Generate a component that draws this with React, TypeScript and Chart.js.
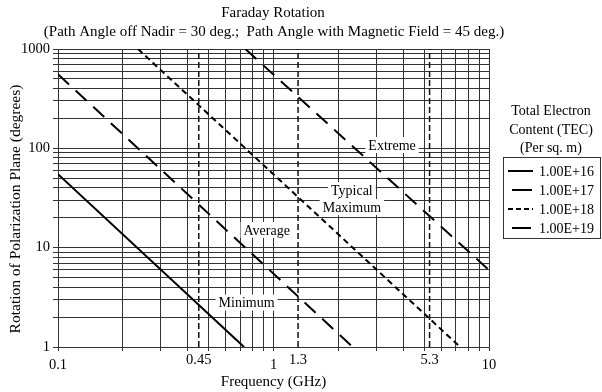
import React, { useEffect, useRef } from "react";
import { Chart, registerables } from "chart.js";

Chart.register(...registerables);

// ---- Data ----
const freq16 = [0.1, 0.73];
const rot16 = [55, 1];
const freq17 = [0.1, 2.33];
const rot17 = [557, 1];
const freq18 = [0.235, 7.35];
const rot18 = [1000, 1];
const freq19 = [0.74, 10];
const rot19 = [1000, 5.95];

const bandFreqs = [0.45, 1.3, 5.3];
const xTickLabels = [0.1, 0.45, 1, 1.3, 5.3, 10];
const yTickLabels = [1, 10, 100, 1000];
const legendLabels = ["1.00E+16", "1.00E+17", "1.00E+18", "1.00E+19"];

const curveLabels = [
  { text: ["Minimum"], x: 0.75, y: 2.8 },
  { text: ["Average"], x: 0.93, y: 15.1 },
  { text: ["Typical", "Maximum"], x: 2.31, y: 38 },
  { text: ["Extreme"], x: 3.55, y: 108 },
];

const FONT = "'Liberation Serif', 'Times New Roman', serif";

function decadeGrid(min: number, max: number): number[] {
  const out: number[] = [];
  for (let d = min; d < max * 0.999; d *= 10) {
    for (let k = 1; k < 10; k++) out.push(d * k);
  }
  out.push(max);
  return out;
}

const pts = (xs: number[], ys: number[]) => xs.map((x, i) => ({ x, y: ys[i] }));

export default function App() {
  const ref = useRef<HTMLCanvasElement | null>(null);

  useEffect(() => {
    document.body.style.margin = "0";
    const canvas = ref.current!;
    const xGrid = decadeGrid(0.1, 10);
    const yGrid = decadeGrid(1, 1000);

    const styles = [
      { dash: [] as number[], w: 2 },
      { dash: [15, 9], w: 2 },
      { dash: [6, 4], w: 2 },
      { dash: [15, 9], w: 2 },
    ];

    const series = [
      pts(freq16, rot16),
      pts(freq17, rot17),
      pts(freq18, rot18),
      pts(freq19, rot19),
    ];

    const datasets: any[] = series.map((d, i) => ({
      label: legendLabels[i],
      data: d,
      showLine: true,
      borderColor: "#000",
      borderWidth: styles[i].w,
      borderDash: styles[i].dash,
      pointRadius: 0,
      fill: false,
    }));
    bandFreqs.forEach((f) => {
      datasets.push({
        label: "band" + f,
        data: [
          { x: f, y: 1 },
          { x: f, y: 1000 },
        ],
        showLine: true,
        borderColor: "#111",
        borderWidth: 1.5,
        borderDash: [6, 3],
        pointRadius: 0,
      });
    });

    const overlay = {
      id: "overlay",
      afterDatasetsDraw(chart: any) {
        const ctx = chart.ctx as CanvasRenderingContext2D;
        const xs = chart.scales.x;
        const ys = chart.scales.y;
        ctx.save();
        ctx.fillStyle = "#000";
        ctx.textAlign = "center";
        ctx.textBaseline = "middle";
        ctx.font = `14px ${FONT}`;
        curveLabels.forEach((l) => {
          const cx = xs.getPixelForValue(l.x);
          const cy = ys.getPixelForValue(l.y);
          const lh = 17;
          l.text.forEach((t, i) => {
            const ty = cy + i * lh;
            const w = ctx.measureText(t).width;
            ctx.fillStyle = "#fff";
            ctx.fillRect(cx - w / 2 - 3, ty - 8, w + 6, 16);
          });
          ctx.fillStyle = "#000";
          l.text.forEach((t, i) => ctx.fillText(t, cx, cy + i * lh + 1));
        });
        ctx.restore();
      },
      afterDraw(chart: any) {
        const ctx = chart.ctx as CanvasRenderingContext2D;
        const xs = chart.scales.x;
        const area = chart.chartArea;
        ctx.save();
        ctx.fillStyle = "#000";
        ctx.textAlign = "center";
        ctx.textBaseline = "middle";
        ctx.font = `15px ${FONT}`;
        ctx.fillText("Faraday Rotation", 273, 13);
        ctx.fillText(
          "(Path Angle off Nadir = 30 deg.;  Path Angle with Magnetic Field = 45 deg.)",
          274,
          32
        );
        ctx.font = `14.5px ${FONT}`;
        xTickLabels.forEach((v) => {
          const px = xs.getPixelForValue(v);
          const major = Math.abs(Math.log10(v) - Math.round(Math.log10(v))) < 1e-6;
          ctx.fillText(String(v), px, area.bottom + (major ? 18 : 13));
        });
        ctx.font = `15px ${FONT}`;
        ctx.fillText("Frequency (GHz)", (area.left + area.right) / 2, 382);
        ctx.save();
        ctx.translate(16, 209);
        ctx.rotate(-Math.PI / 2);
        ctx.font = `15.5px ${FONT}`;
        ctx.fillText("Rotation of Polarization Plane (degrees)", 0, 0);
        ctx.restore();
        ctx.font = `14px ${FONT}`;
        ctx.fillText("Total Electron", 551, 111);
        ctx.fillText("Content (TEC)", 551, 130);
        ctx.fillText("(Per sq. m)", 551, 148);
        ctx.strokeStyle = "#333";
        ctx.lineWidth = 1;
        ctx.strokeRect(503.5, 157.5, 97, 81);
        const sampleX = [
          [508, 533],
          [512, 532],
          [508, 533],
          [512, 531],
        ];
        legendLabels.forEach((lab, i) => {
          const y = 171 + i * 19;
          ctx.beginPath();
          ctx.strokeStyle = "#000";
          ctx.lineWidth = 2;
          ctx.setLineDash(i === 2 ? [5, 3] : []);
          ctx.moveTo(sampleX[i][0], y);
          ctx.lineTo(sampleX[i][1], y);
          ctx.stroke();
          ctx.setLineDash([]);
          ctx.textAlign = "left";
          ctx.fillText(lab, 539, y + 1);
        });
        ctx.restore();
      },
    };

    const chart = new Chart(canvas, {
      type: "scatter",
      data: { datasets },
      options: {
        animation: false,
        responsive: false,
        events: [],
        layout: { padding: { left: 0, top: 49, right: 113, bottom: 0 } },
        plugins: { legend: { display: false }, tooltip: { enabled: false }, title: { display: false } },
        scales: {
          x: {
            type: "logarithmic",
            min: 0.1,
            max: 10,
            afterBuildTicks: (s: any) => {
              s.ticks = xGrid.map((v) => ({ value: v }));
            },
            afterFit: (s: any) => {
              s.height = 45;
            },
            ticks: { display: false, autoSkip: false },
            grid: { color: "#333", lineWidth: 1, tickLength: 4 },
            border: { color: "#333" },
          },
          y: {
            type: "logarithmic",
            min: 1,
            max: 1000,
            afterBuildTicks: (s: any) => {
              s.ticks = yGrid.map((v) => ({ value: v }));
            },
            afterFit: (s: any) => {
              s.width = 58;
            },
            ticks: {
              autoSkip: false,
              padding: 3,
              color: "#000",
              font: { family: FONT, size: 14.5 },
              callback: (v: any) => (yTickLabels.includes(Number(v)) ? String(v) : ""),
            },
            grid: { color: "#333", lineWidth: 1, tickLength: 5 },
            border: { color: "#333" },
          },
        },
      },
      plugins: [overlay],
    } as any);
    return () => chart.destroy();
  }, []);

  return (
    <div style={{ position: "absolute", left: 0, top: 0, width: 602, height: 392, background: "#fff" }}>
      <canvas ref={ref} width={602} height={392} style={{ display: "block" }} />
    </div>
  );
}
